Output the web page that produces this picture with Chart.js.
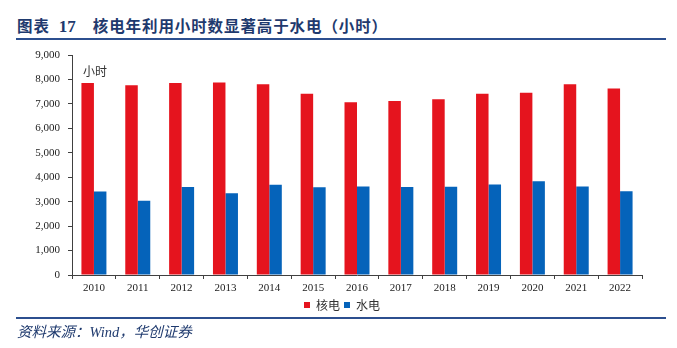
<!DOCTYPE html>
<html>
<head>
<meta charset="utf-8">
<script src="https://cdn.jsdelivr.net/npm/chart.js@4.4.1/dist/chart.umd.min.js"></script>
<style>
  body { margin: 0; background: #fff; }
  #wrap { position: relative; width: 677px; height: 348px; overflow: hidden; }
  .title { position: absolute; left: 17px; top: 14px; font: bold 15.5px 'Noto Sans CJK SC'; color: #1f3a6e; letter-spacing: 0.9px; white-space: nowrap; }
  .title .num { font-family: 'Liberation Serif'; font-size: 17px; margin: 0 17px 0 9px; letter-spacing: 0; }
  .rule { position: absolute; left: 16px; width: 650px; height: 2px; background: #2c4f8f; }
  .source { position: absolute; left: 17px; top: 320px; font: italic 14.5px 'Liberation Serif', 'Noto Sans CJK SC'; color: #1f3a6e; white-space: nowrap; }
  canvas { position: absolute; left: 0; top: 40px; }
</style>
</head>
<body>
<div id="wrap">
  <div class="title">图表<span class="num">17</span>核电年利用小时数显著高于水电（小时）</div>
  <div class="rule" style="top:38px"></div>
  <canvas id="chart" width="677" height="281"></canvas>
  <div class="rule" style="top:317px"></div>
  <div class="source">资料来源：Wind，华创证券</div>
</div>
<script>
// annual utilisation hours, nuclear vs hydro
const years = ['2010', '2011', '2012', '2013', '2014', '2015', '2016', '2017', '2018', '2019', '2020', '2021', '2022']
const nuclearHours = [7850, 7765, 7855, 7880, 7800, 7415, 7065, 7120, 7190, 7410, 7455, 7805, 7630]
const hydroHours = [3420, 3035, 3595, 3345, 3690, 3590, 3620, 3597, 3615, 3705, 3835, 3622, 3425]
const seriesNames = ['核电', '水电']
const yMin = 0
const yMax = 9000
const yStep = 1000
const unitLabel = '小时'

const axisColor = '#404040'
const tickFont = { family: "'Liberation Serif', 'Times New Roman', serif", size: 11 }

// small unit caption in the top-left corner of the plot
const unitPlugin = {
    id: 'unitLabel',
    afterLayout(chart) {
        // nudge the legend so it sits a bit right of the canvas centre
        chart.legend.left = 42
    },
    afterDraw(chart) {
        const { ctx, chartArea } = chart
        ctx.save()
        ctx.font = "12px 'Noto Sans CJK SC'"
        ctx.fillStyle = '#333'
        ctx.textBaseline = 'middle'
        ctx.fillText(unitLabel, chartArea.left + 11, chartArea.top + 16)
        ctx.restore()
    },
}

const chart = new Chart(document.getElementById('chart'), {
    type: 'bar',
    data: {
        labels: years,
        datasets: [
            {
                label: seriesNames[0],
                data: nuclearHours,
                backgroundColor: '#e5141e',
                categoryPercentage: 0.57,
                barPercentage: 1,
            },
            {
                label: seriesNames[1],
                data: hydroHours,
                backgroundColor: '#0563ba',
                categoryPercentage: 0.57,
                barPercentage: 1,
            },
        ],
    },
    options: {
        responsive: false,
        animation: false,
        devicePixelRatio: 1,
        layout: { padding: { left: 0, right: 35, top: 15, bottom: 0 } },
        plugins: {
            tooltip: { enabled: false },
            legend: {
                position: 'bottom',
                labels: {
                    boxWidth: 6,
                    boxHeight: 6,
                    padding: 4,
                    color: '#333',
                    font: { family: "'Noto Sans CJK SC'", size: 12 },
                },
            },
        },
        scales: {
            x: {
                grid: { offset: true, drawOnChartArea: false, tickLength: 4, color: axisColor },
                border: { color: axisColor },
                ticks: { font: tickFont, color: '#222', padding: 3, maxRotation: 0 },
                afterFit: (scale) => { scale.height = 20 },
            },
            y: {
                min: yMin,
                max: yMax,
                grid: { drawOnChartArea: false, tickLength: 4, color: axisColor },
                border: { color: axisColor },
                ticks: {
                    stepSize: yStep,
                    font: tickFont,
                    color: '#222',
                    padding: 8,
                    callback: (v) => v.toLocaleString('en-US'),
                },
                afterFit: (scale) => { scale.width = 72 },
            },
        },
    },
    plugins: [unitPlugin],
})
</script>
</body>
</html>
